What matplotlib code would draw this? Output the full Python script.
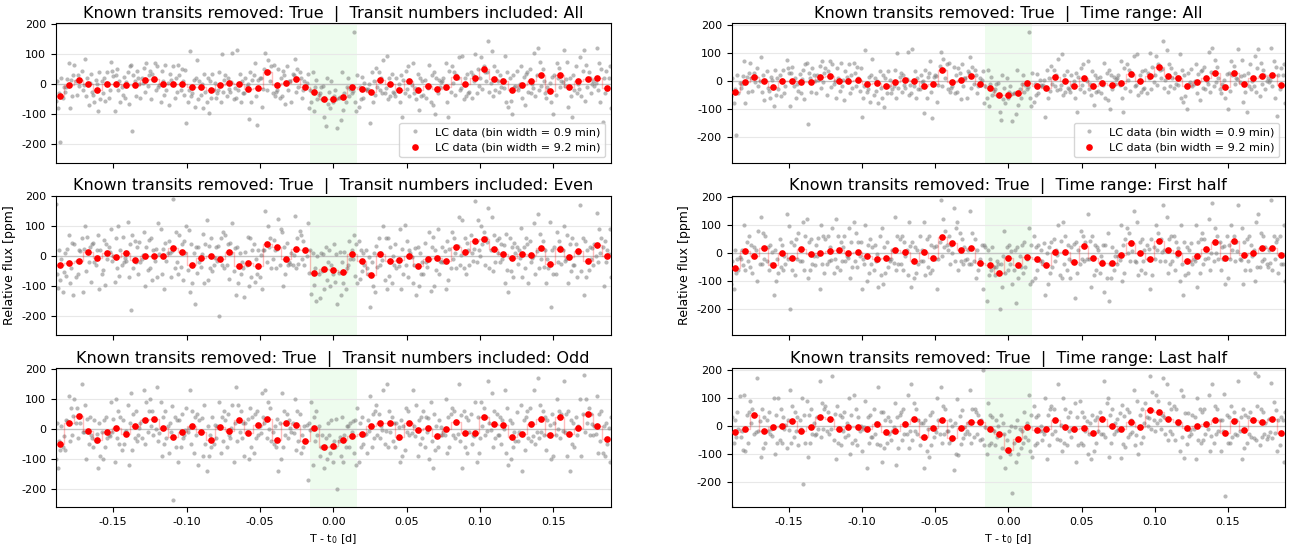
import numpy as np
import matplotlib
matplotlib.use("Agg")
import matplotlib.pyplot as plt

plt.rcParams['axes.unicode_minus'] = False

# binned light curve (9.2 min bins), phase in days
n_bins = 59
bin_step = 0.00643
t_bins = (np.arange(n_bins) - 29) * bin_step
transit_half = 0.016

red_all = [-41, -3, 13, 1, -21, -1, -1, -3, -3, 13, 18, 1, -1, 2, -10, -8, -19, -3, 4, -1,
           -17, -12, 39, -3, 4, 18, -10, -26, -49, -51, -44, -8, -17, -26, 13, -1, -20, 11, -19, -6,
           -16, -8, 24, -1, 19, 49, 18, 9, -19, -3, 11, 29, -22, 29, -11, 11, 18, 21, -13]
red_even = [-29, -22, -16, 13, -8, 10, -3, 10, -13, -1, 1, -1, 27, 12, -31, -6, 1, -10, 15, -34,
            -22, -34, 40, 29, -10, 25, 20, -55, -44, -46, -52, 8, -18, -63, 6, -18, -13, -1, -34, -10,
            -8, -16, 29, 15, 49, 57, 22, 6, -8, 8, 3, 27, -26, 22, -3, 18, -16, 37, 1]
red_odd = [-49, 19, 45, -7, -37, -9, 4, -16, 9, 30, 35, 2, -28, -9, 9, -9, -37, 7, -7, 30,
           -12, 12, 35, -37, 19, 12, -41, 2, -59, -56, -37, -23, -16, 9, 21, 19, -28, 21, -4, 2,
           -23, 0, 24, -13, -13, 39, 17, 15, -28, -16, 17, 35, -21, 39, -16, 4, 51, 9, -32]
red_first = [-53, 7, -11, 19, -41, -1, -18, 14, -4, -1, 7, 10, -1, 5, -11, -23, -16, 12, 4, -28,
             5, -18, 56, 35, 12, 19, -34, -41, -71, -18, -41, -13, -20, -43, 4, 4, -31, 26, -16, -34,
             -34, -8, 37, 1, -23, 44, 10, 1, -28, -11, 14, 40, -18, 42, -8, -1, 19, 17, -6]
red_last = [-24, -12, 37, -18, -6, -1, 17, -20, -4, 30, 26, -11, -4, -4, -13, 7, -23, -18, 5, 24,
            -40, -8, 19, -45, -8, 14, 14, -13, -29, -85, -48, -4, -15, -11, 19, -6, -13, -8, -25, 24,
            -1, -11, 12, -4, 56, 51, 24, 12, -8, -1, 6, 19, -27, 17, -15, 21, 14, 24, -25]

# unbinned points (0.9 min), 8 per coarse bin
gray_all = """
-55 12 -80 -30 -194 20 -45 -8
70 -80 15 -40 30 -25 -10 16
45 -20 65 10 -35 30 -5 14
85 -40 20 -70 5 35 -25 -2
-90 40 -50 10 -35 -60 15 2
75 -30 20 -55 5 40 -45 -18
-90 30 50 -20 10 -60 45 27
40 -65 60 -10 -35 25 -45 6
65 -155 30 10 -40 45 20 1
55 -25 70 -5 30 -45 20 4
60 -10 45 -50 35 15 70 -21
-60 45 10 -35 65 -20 5 -2
60 -45 20 -25 -70 35 15 2
-130 65 30 -20 50 10 -35 46
110 -40 -30 15 -75 20 -60 -20
-80 35 -25 80 -50 10 -35 1
-60 20 -95 10 -45 35 -20 3
40 -60 100 -25 15 -45 -30 -19
105 -50 30 -40 20 -15 -25 7
-45 115 -20 35 -60 10 -30 -13
-115 40 -60 15 -30 20 -5 -1
-75 30 70 -40 -135 15 20 19
105 -20 80 40 10 60 -15 52
50 -45 20 -30 65 -40 -25 -19
-40 45 30 -65 60 -20 10 12
85 -25 50 -10 40 -60 35 29
35 -80 20 -45 -20 10 -5 5
-60 40 -90 -10 15 -50 -35 -18
-110 -140 20 -65 -30 -10 -50 -7
-145 -25 -80 10 -60 -40 -20 -48
-120 40 -85 -30 -60 -10 -45 -42
174 -60 -90 20 -40 -15 -30 -23
30 -75 -10 -50 25 -45 5 -16
-130 40 -60 10 -35 -20 -15 2
80 -30 55 -10 40 -20 20 -31
95 -50 20 -40 35 -25 -30 -13
-60 30 -110 15 -40 20 -15 0
70 -30 45 -15 60 -40 10 -2
-50 35 -85 20 -40 10 -30 -12
65 -60 30 -35 15 -45 -5 -13
-70 40 -100 20 -30 15 -10 7
70 -60 -110 45 -25 10 20 -14
90 -20 60 5 40 -35 30 22
95 -50 20 -40 35 -30 -25 -13
100 -30 50 -5 40 -45 30 12
145 20 90 -15 60 40 10 42
110 -40 60 -20 45 10 -25 4
95 -60 40 -25 30 -10 15 -13
-75 20 -55 -100 30 -10 -5 43
60 -45 25 -70 35 -20 -10 1
105 -40 40 -25 50 -30 0 -12
120 -20 75 -5 50 10 -30 32
-60 25 -100 30 -45 -10 -20 4
115 -35 70 20 55 -10 10 7
75 -75 20 -40 -110 30 -5 17
90 -40 45 -20 60 -30 0 -17
115 -55 65 -10 40 20 -30 -1
120 -20 70 -60 50 10 -5 3
60 -80 -125 20 -30 45 -15 21
"""

gray_even = """
175 -60 -105 20 -80 -10 -120 -52
70 -90 -40 45 -130 10 -65 24
60 -120 40 -70 -15 -60 20 17
100 -50 65 -20 30 -85 40 24
70 -110 20 -60 45 -20 -30 21
90 -45 55 -95 40 -10 30 15
-85 60 -40 100 -65 20 -15 1
115 -70 40 -30 65 -20 -5 -15
-180 70 -40 50 -20 30 -60 46
80 -100 30 -45 55 -20 -10 2
-70 110 -40 60 -80 20 -15 23
90 -60 25 -110 45 -15 10 7
190 -40 80 -20 50 10 -70 16
100 -60 70 -35 40 -80 50 11
-120 40 -90 10 -160 30 -45 87
75 -90 40 -55 30 -20 -35 7
120 -80 35 -40 60 -50 -30 -7
-200 60 -30 80 -40 30 -15 35
110 -50 70 -30 40 -75 45 10
-130 30 -90 10 -60 -20 -40 28
-100 60 -70 20 -135 15 -30 64
-110 40 -85 -10 -60 20 -70 3
150 -20 100 30 60 -40 20 20
125 -30 90 -10 55 20 -40 22
80 -100 30 -60 45 -30 -20 -25
135 -40 60 -25 85 10 -30 5
110 -55 70 -10 50 -30 25 0
-125 10 -95 -40 -150 0 -60 20
-110 30 -80 -20 -140 10 -50 8
-160 20 -100 -30 -60 40 -85 7
-130 -20 -90 15 -110 -40 -55 14
70 -65 40 -30 50 -10 20 -11
-90 50 -75 20 -50 10 -30 21
-170 -20 -100 10 -120 -40 -60 -4
100 -80 35 -35 60 -30 10 -12
-110 60 -65 30 -90 0 -30 61
90 -110 25 -60 40 -40 -15 -34
-90 105 -30 50 -70 20 10 -3
-130 30 -100 10 -60 -20 -30 28
80 -115 30 -60 45 -20 -35 -5
65 -100 20 -45 90 -60 -15 -19
-110 50 -80 25 -40 30 -20 17
130 -30 80 -10 60 10 -40 32
120 -40 60 -60 45 20 -30 5
185 -20 120 20 70 10 -15 22
160 0 100 40 80 -30 60 46
130 -50 70 -20 55 10 -40 21
-90 75 -45 60 -20 40 -10 38
-120 60 -50 30 -70 45 10 31
95 -70 30 -40 60 -25 20 -6
110 -60 40 -90 50 -20 -5 -1
140 -40 75 -10 50 -35 20 16
-170 20 -60 30 -90 -10 -40 112
100 -60 80 -20 50 30 -25 21
70 -90 40 -50 60 -30 -15 -9
170 -50 60 -30 40 -70 10 14
-130 50 -70 20 -45 30 -10 27
145 -20 90 10 60 -30 40 1
90 -70 30 -100 50 -20 20 8
"""

gray_odd = """
-100 20 -130 -40 -70 10 -60 -22
110 -40 70 -20 45 -70 30 27
150 -10 100 20 70 -30 40 20
80 -100 35 -50 40 -20 -30 -11
-130 20 -90 -10 -60 30 -40 -16
90 -100 30 -60 40 -30 -20 -22
-110 100 -30 60 -50 40 -10 32
80 -120 20 -70 30 -50 -10 -8
120 -70 50 -30 60 -40 -20 2
130 -50 90 -10 60 20 -30 30
140 -40 100 10 60 -20 30 0
90 -90 40 -50 60 -30 10 -14
-240 40 -60 30 -80 20 -10 76
70 -110 30 -60 50 -30 -20 -2
130 -50 60 -80 40 -20 -10 2
-90 80 -50 50 -120 30 -10 38
-140 10 -90 -20 -60 40 -50 14
90 -80 40 -40 60 -30 10 6
80 -110 30 -60 50 -20 -30 4
140 -40 80 -10 60 -30 20 20
-100 70 -60 40 -90 20 -10 34
120 -80 50 -30 60 -20 10 -14
130 -30 90 0 70 -40 40 20
-140 20 -100 -10 -50 10 -60 34
120 -60 60 -20 50 -30 30 2
100 -70 60 -40 50 -10 20 -14
-170 20 -80 -20 -60 10 -40 12
90 -120 40 -40 60 -20 10 -4
-130 -30 -100 20 -90 -60 -20 -62
-200 -20 -80 30 -110 -40 -60 32
-90 40 -110 -20 -60 10 -40 -26
-80 30 -120 10 -60 20 -10 26
70 -110 20 -60 40 -50 -20 -18
110 -60 50 -30 60 -80 30 -8
130 -50 80 -20 50 -30 10 -2
150 -60 60 -10 40 -40 20 -8
-110 30 -90 10 -60 20 -30 6
130 -70 70 -10 60 -20 20 -12
80 -90 30 -50 40 -30 10 -22
-100 90 -40 60 -60 40 -10 36
-130 50 -70 10 -60 30 -20 6
100 -80 40 -60 50 -20 -10 -20
150 -40 70 -20 60 -30 20 -18
-130 60 -60 40 -80 30 -10 46
90 -110 40 -80 50 -50 -20 -24
160 -30 90 10 70 -20 40 -8
120 -60 60 -30 50 -20 20 -4
130 -80 70 -20 40 -50 30 0
-120 30 -100 20 -60 -10 -40 56
80 -140 30 -70 40 -40 -10 -18
130 -50 60 -30 70 -40 20 -24
170 -30 80 -10 60 -20 40 -10
-100 50 -90 20 -70 30 -20 12
160 -20 100 0 60 -30 50 -8
-90 60 -140 30 -50 20 -10 52
100 -90 50 -60 40 -20 10 2
180 -10 100 20 70 -20 50 18
110 -80 50 -40 60 -20 10 -18
-110 40 -80 10 -90 20 -50 4
"""

gray_first = """
-110 -30 -130 10 -70 -20 -60 -14
100 -60 40 -30 60 -20 10 -44
-100 80 -50 30 -70 20 -10 12
130 -40 70 -20 60 -30 20 -38
-150 10 -100 -20 -60 30 -40 2
140 -70 50 -50 30 -60 -10 -38
-200 40 -60 30 -80 50 -20 96
110 -60 60 -20 70 -30 10 -28
120 -90 40 -60 50 -40 -10 -42
-130 100 -40 60 -70 30 -10 52
90 -70 50 -40 60 -30 20 -24
120 -50 60 -60 40 -30 20 -20
90 -90 40 -50 60 -30 -10 -18
-130 110 -30 70 -50 40 -10 40
100 -100 30 -70 50 -40 -20 -38
-120 60 -80 20 -60 30 -30 -4
90 -110 20 -70 40 -50 -20 -28
130 -60 60 -40 50 -20 10 -34
-80 110 -40 60 -60 40 -10 12
-120 40 -90 20 -70 10 -40 26
110 -80 50 -50 60 -30 10 -30
-130 60 -70 30 -60 20 -20 26
190 -10 120 20 80 30 -20 38
160 -30 90 10 60 -40 30 0
110 -60 70 -30 50 -40 20 -24
150 -40 70 -30 50 -20 10 -38
-130 30 -90 10 -60 -20 -40 28
-170 10 -80 -20 -60 20 -50 22
-200 -40 -120 -10 -80 -50 -30 -38
-110 80 -70 20 -60 30 -40 6
-180 20 -90 -10 -50 30 -60 12
90 -110 30 -70 40 -50 -20 -14
-100 60 -90 20 -60 30 -30 10
-150 0 -110 20 -70 -30 -40 36
100 -80 40 -50 50 -30 10 -8
-90 110 -40 60 -60 30 -20 42
-160 40 -70 10 -90 20 -30 32
140 -40 80 -20 60 -30 40 -22
-120 60 -80 30 -60 20 -20 42
-140 30 -90 10 -70 -10 -30 28
70 -170 -40 -90 20 -60 -10 8
100 -100 30 -70 50 -40 -10 -24
150 -30 90 0 70 -30 40 6
110 -80 40 -60 50 -30 10 -32
-130 50 -80 20 -70 30 -20 16
170 -20 100 10 70 -30 50 2
130 -70 50 -40 60 -30 10 -30
-100 100 -40 60 -60 40 -10 18
-150 40 -80 20 -70 10 -30 36
100 -120 40 -70 50 -40 -20 -28
120 -60 70 -40 50 -20 10 -18
180 -30 90 0 60 -20 40 0
-110 60 -90 30 -60 20 -20 26
170 -20 100 10 60 -30 40 6
90 -110 40 -60 50 -30 -20 -24
-100 110 -50 60 -60 30 -10 12
140 -50 70 -30 60 -20 20 -38
190 -60 60 -20 40 -50 10 -34
100 -100 50 -70 60 -40 -10 -38
"""

gray_last = """
-287 30 -60 20 -40 50 -10 105
110 -90 40 -60 50 -40 -20 -86
170 -20 90 10 60 -30 40 -24
-110 60 -80 30 -60 20 -20 16
100 -100 40 -60 50 -30 -10 -38
-80 100 -50 60 -60 30 -10 2
130 -60 70 -40 50 -20 20 -14
-210 40 -60 30 -70 20 -10 100
90 -110 40 -60 60 -30 10 -32
160 -40 80 -10 60 -30 30 -10
180 -50 70 -20 50 -30 20 -12
-120 70 -60 40 -70 30 -20 42
100 -100 40 -60 50 -40 10 -32
-90 110 -50 60 -70 30 -20 -2
90 -150 30 -60 40 -40 -10 -4
140 -70 50 -40 60 -30 10 -64
-130 50 -80 20 -60 30 -30 16
80 -140 30 -80 40 -50 -20 -4
110 -80 50 -50 60 -30 10 -30
150 -50 80 -20 60 -30 20 -18
-150 20 -90 -10 -70 10 -40 10
100 -110 40 -70 50 -40 -10 -24
140 -60 70 -30 60 -20 20 -28
-160 10 -100 -20 -60 20 -50 0
95 -105 35 -65 55 -45 -5 -29
130 -60 60 -40 60 -20 10 -28
200 -70 50 -30 40 -50 20 -48
-100 80 -70 40 -60 30 -20 -4
-110 40 -80 10 -70 20 -40 -2
-240 -30 -150 -50 -90 -20 -100 0
-130 20 -100 -10 -80 -20 -60 -4
110 -90 40 -60 50 -40 10 -52
-110 70 -70 30 -60 40 -20 0
100 -120 40 -70 60 -50 -20 -28
150 -50 70 -30 60 -20 20 -48
-90 100 -60 60 -70 30 -20 2
80 -130 30 -70 50 -40 -10 -14
-100 90 -60 50 -70 30 -20 16
-120 40 -90 20 -60 30 -30 10
160 -40 80 -20 50 -30 20 -28
100 -110 40 -60 60 -30 10 -18
-115 75 -65 35 -75 25 -15 47
130 -70 60 -40 50 -30 20 -24
90 -100 40 -60 60 -40 10 -32
180 -10 120 20 80 30 0 28
170 -20 110 10 90 20 -10 38
150 -50 80 -20 60 -30 30 -28
-90 130 -40 70 -50 60 10 6
105 -115 45 -65 45 -35 -15 -29
-120 100 -50 60 -60 40 -10 32
110 -90 50 -50 60 -30 10 -12
150 -60 70 -30 60 -20 20 -38
-250 40 -60 30 -90 20 -20 114
160 -60 70 -40 50 -30 20 -34
-120 60 -80 40 -60 30 -20 30
190 -50 70 -30 50 -40 20 -42
180 -70 60 -40 50 -30 10 -48
155 -45 85 -25 55 -35 25 -23
-130 50 -90 20 -70 30 -30 20
"""


def unpack(block):
    vals = np.array(block.split(), dtype=float).reshape(n_bins, 8)
    # spread the order inside each bin so the sign pattern is not periodic
    vals = np.array([np.roll(row, 3 * i) for i, row in enumerate(vals)])
    offsets = (np.arange(8) - 3.5) * bin_step / 8
    t = (t_bins[:, None] + offsets[None, :]).ravel()
    return t, vals.ravel()


panels = [
    (0, 0, "Known transits removed: True  |  Transit numbers included: All", gray_all, red_all, (-262, 203)),
    (1, 0, "Known transits removed: True  |  Transit numbers included: Even", gray_even, red_even, (-263, 201)),
    (2, 0, "Known transits removed: True  |  Transit numbers included: Odd", gray_odd, red_odd, (-263, 204)),
    (0, 1, "Known transits removed: True  |  Time range: All", gray_all, red_all, (-294, 207)),
    (1, 1, "Known transits removed: True  |  Time range: First half", gray_first, red_first, (-293, 205)),
    (2, 1, "Known transits removed: True  |  Time range: Last half", gray_last, red_last, (-292, 206)),
]

col_x = [(56, 610.5), (731.7, 1285)]
row_y = [(23.3, 162.7), (195.7, 335), (368.3, 507.3)]
W, H = 1293, 546

fig = plt.figure(figsize=(W / 100, H / 100), dpi=100)

for row, col, title, gray, red, ylim in panels:
    x0, x1 = col_x[col]
    y0, y1 = row_y[row]
    ax = fig.add_axes([x0 / W, 1 - y1 / H, (x1 - x0) / W, (y1 - y0) / H])

    tg, yg = unpack(gray)
    ax.axvspan(-transit_half, transit_half, color='#eefcee', zorder=0, lw=0)
    ax.axhline(0, color='gray', alpha=0.35, lw=1, zorder=1)
    ax.plot(tg, yg, 'o', color='#808080', alpha=0.55, ms=3.0, mew=0, zorder=2,
            label='LC data (bin width = 0.9 min)')
    ax.plot(t_bins, red, drawstyle='steps-mid', color='red', alpha=0.25, lw=1, zorder=3)
    ax.plot(t_bins, red, 'o', color='red', ms=4.8, mew=0, zorder=4,
            label='LC data (bin width = 9.2 min)')

    ax.set_xlim(-0.189, 0.189)
    ax.set_ylim(*ylim)
    ax.set_yticks([-200, -100, 0, 100, 200])
    ax.set_xticks([-0.15, -0.10, -0.05, 0.0, 0.05, 0.10, 0.15])
    ax.grid(axis='y', color='#e8e8e8', lw=0.8)
    ax.set_axisbelow(True)
    ax.tick_params(labelsize=8)
    ax.set_title(title, fontsize=11.5, pad=4)

    if row < 2:
        ax.tick_params(labelbottom=False)
    else:
        ax.set_xlabel('T - t$_0$ [d]', fontsize=8)
    if row == 1:
        ax.set_ylabel('Relative flux [ppm]', fontsize=9)
    if row == 0:
        ax.legend(loc='lower right', fontsize=8)

fig.savefig('out.png', dpi=100)
